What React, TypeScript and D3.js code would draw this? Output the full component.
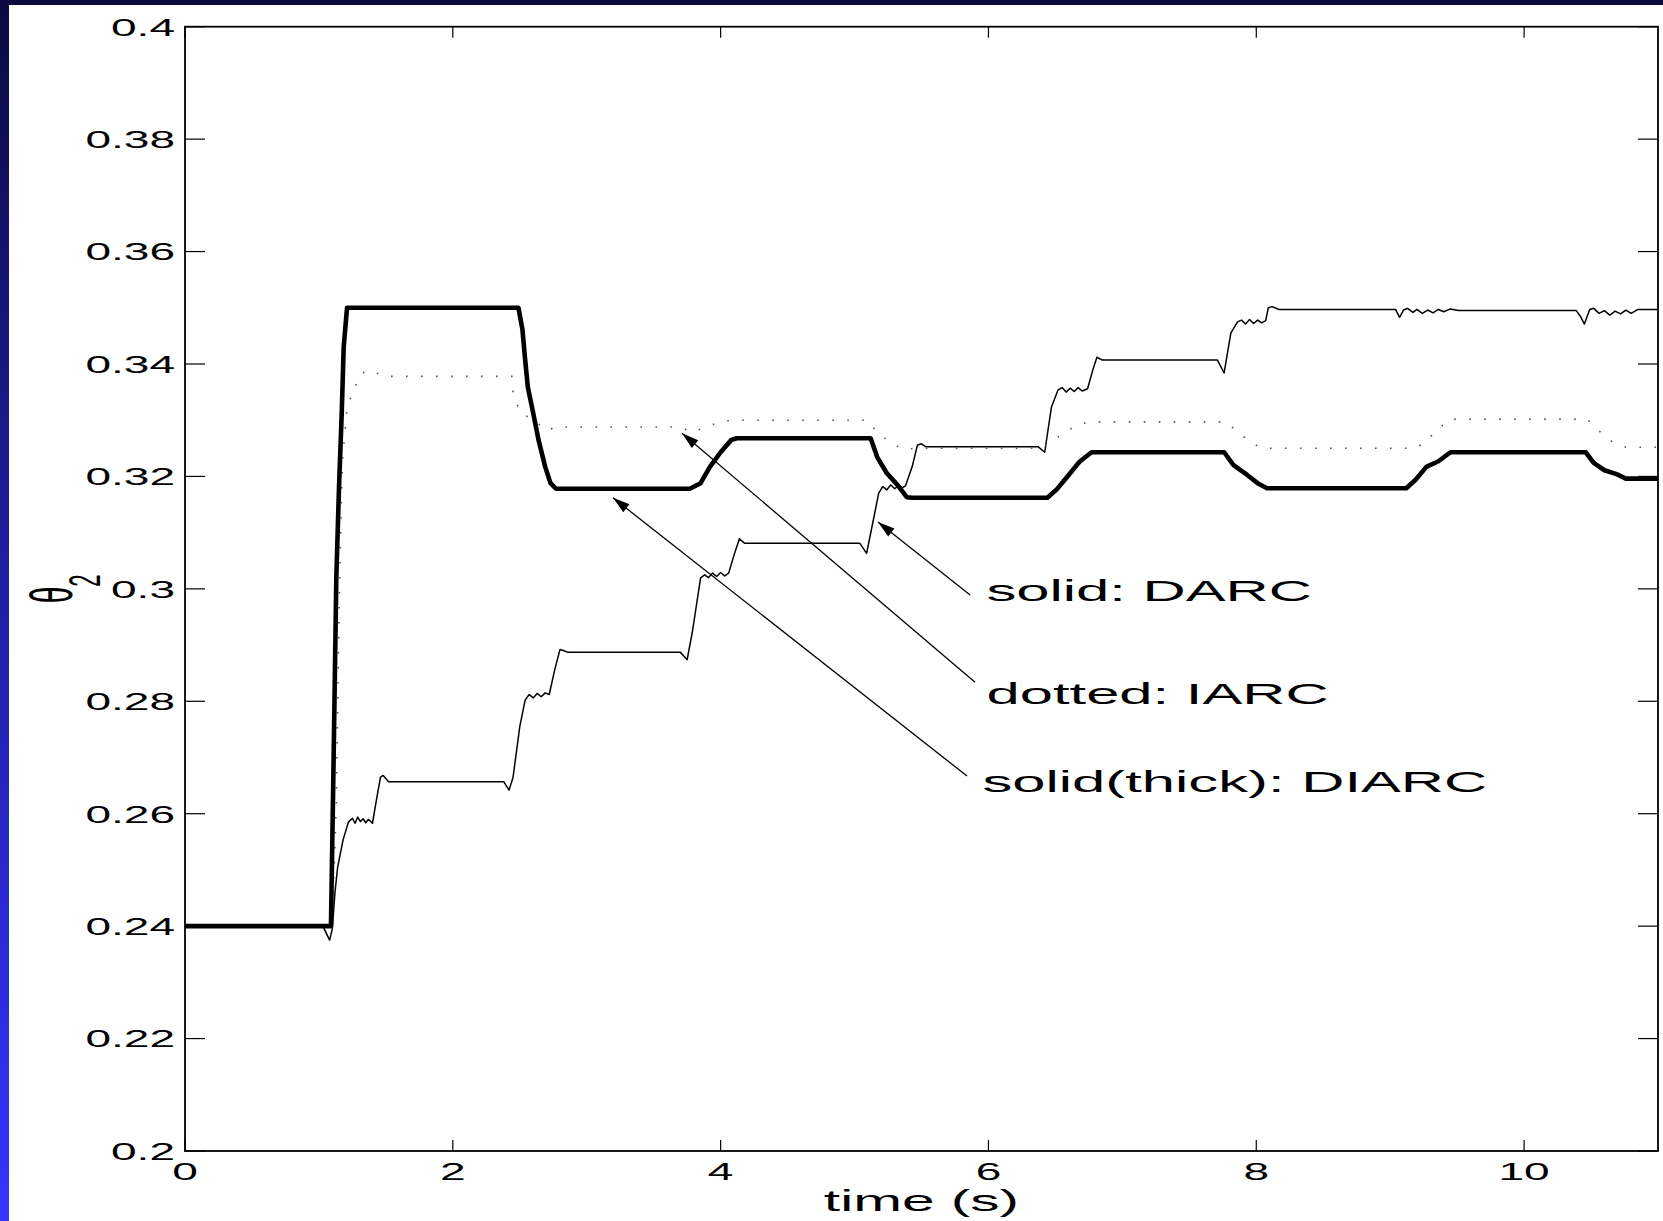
import React from "react";
import * as d3 from "d3";

// Joint angle theta_2 over time for three controllers: [time (s), theta_2]
const darcSeries: [number, number][] = [
  [0, 0.24], [1.03, 0.24], [1.06, 0.2385], [1.08, 0.2375], [1.1, 0.2395], [1.12, 0.246],
  [1.14, 0.2505], [1.18, 0.2553], [1.22, 0.2585], [1.25, 0.2592], [1.27, 0.2583], [1.29, 0.2594],
  [1.31, 0.2586], [1.33, 0.2591], [1.35, 0.2584], [1.37, 0.259], [1.4, 0.2583], [1.43, 0.2625],
  [1.46, 0.2665], [1.48, 0.2668], [1.52, 0.2657], [2.38, 0.2657], [2.42, 0.2642], [2.45, 0.2665],
  [2.5, 0.2755], [2.54, 0.2802], [2.57, 0.2812], [2.6, 0.2806], [2.63, 0.2814], [2.66, 0.2808],
  [2.69, 0.2815], [2.72, 0.2812], [2.76, 0.2855], [2.8, 0.2892], [2.83, 0.289], [2.86, 0.2887],
  [3.7, 0.2887], [3.75, 0.2874], [3.79, 0.2925], [3.85, 0.3019], [3.88, 0.3025], [3.91, 0.302],
  [3.94, 0.3028], [3.97, 0.3022], [4.0, 0.3029], [4.03, 0.3023], [4.06, 0.3028], [4.1, 0.306],
  [4.14, 0.3089], [4.18, 0.3081], [5.04, 0.3081], [5.09, 0.3063], [5.14, 0.3122], [5.18, 0.317],
  [5.21, 0.3182], [5.24, 0.3176], [5.27, 0.3185], [5.3, 0.3178], [5.33, 0.3184], [5.36, 0.318],
  [5.38, 0.3183], [5.43, 0.3217], [5.47, 0.3256], [5.5, 0.3258], [5.53, 0.3253], [6.37, 0.3253],
  [6.42, 0.3243], [6.47, 0.3323], [6.52, 0.3354], [6.55, 0.3358], [6.58, 0.335], [6.61, 0.3357],
  [6.64, 0.3351], [6.67, 0.3358], [6.7, 0.3352], [6.74, 0.3356], [6.78, 0.339], [6.81, 0.3412],
  [6.85, 0.3407], [7.71, 0.3407], [7.76, 0.3384], [7.81, 0.3455], [7.86, 0.3475], [7.89, 0.3478],
  [7.92, 0.3471], [7.95, 0.3479], [7.98, 0.3472], [8.01, 0.3478], [8.04, 0.3473], [8.07, 0.3477],
  [8.09, 0.35], [8.12, 0.3502], [8.17, 0.3497], [9.04, 0.3497], [9.07, 0.3483], [9.1, 0.3496],
  [9.13, 0.3499], [9.17, 0.3492], [9.2, 0.3497], [9.24, 0.349], [9.28, 0.3496], [9.32, 0.3491],
  [9.36, 0.3497], [9.4, 0.3493], [9.45, 0.3498], [9.51, 0.3495], [10.39, 0.3495], [10.42, 0.3485],
  [10.45, 0.3471], [10.49, 0.3497], [10.52, 0.3499], [10.56, 0.349], [10.6, 0.3495], [10.64, 0.3487],
  [10.68, 0.3494], [10.72, 0.3489], [10.76, 0.3496], [10.8, 0.349], [10.85, 0.3497], [11, 0.3497],
];

const iarcSeries: [number, number][] = [
  [0, 0.24], [1.1, 0.24], [1.13, 0.262], [1.15, 0.295], [1.17, 0.3181], [1.18, 0.3242],
  [1.2, 0.3295], [1.21, 0.3323], [1.26, 0.3354], [1.32, 0.3384], [1.39, 0.3389], [1.48, 0.3378],
  [2.44, 0.3378], [2.45, 0.3348], [2.5, 0.3315], [2.6, 0.33], [2.71, 0.3281], [2.76, 0.3288],
  [3.71, 0.3288], [3.77, 0.3279], [3.85, 0.3284], [3.95, 0.3293], [4.05, 0.3299], [4.14, 0.33],
  [5.1, 0.33], [5.17, 0.3277], [5.27, 0.3261], [5.36, 0.3248], [5.45, 0.325], [6.38, 0.325],
  [6.45, 0.3258], [6.55, 0.3275], [6.65, 0.329], [6.75, 0.3297], [7.77, 0.3297], [7.85, 0.3282],
  [7.95, 0.3262], [8.04, 0.325], [9.19, 0.325], [9.27, 0.3263], [9.36, 0.3285], [9.45, 0.3302],
  [10.47, 0.3302], [10.55, 0.3283], [10.65, 0.3263], [10.76, 0.3252], [11, 0.3252],
];

const diarcSeries: [number, number][] = [
  [0, 0.24], [1.09, 0.24], [1.11, 0.27], [1.13, 0.302], [1.15, 0.318], [1.17, 0.331],
  [1.185, 0.343], [1.21, 0.35], [2.49, 0.35], [2.52, 0.3461], [2.54, 0.3408], [2.56, 0.3359],
  [2.6, 0.3313], [2.64, 0.3265], [2.69, 0.3217], [2.73, 0.3188], [2.77, 0.3178], [3.77, 0.3178],
  [3.85, 0.3188], [3.92, 0.3217], [4.0, 0.3243], [4.08, 0.3265], [4.12, 0.3268], [5.12, 0.3268],
  [5.17, 0.3234], [5.24, 0.3206], [5.32, 0.3185], [5.39, 0.3163], [5.43, 0.3162], [6.44, 0.3162],
  [6.51, 0.3177], [6.59, 0.32], [6.68, 0.3226], [6.77, 0.3243], [7.76, 0.3243], [7.83, 0.322],
  [7.93, 0.3203], [8.01, 0.3188], [8.08, 0.3179], [9.12, 0.3179], [9.19, 0.3194], [9.27, 0.3217],
  [9.36, 0.3227], [9.45, 0.3243], [10.46, 0.3243], [10.52, 0.3224], [10.6, 0.3211],
  [10.69, 0.3204], [10.76, 0.3196], [11, 0.3196],
];

const xTicks = [0, 2, 4, 6, 8, 10];
const xTickLabels = ["0", "2", "4", "6", "8", "10"];
const yTicks = [0.2, 0.22, 0.24, 0.26, 0.28, 0.3, 0.32, 0.34, 0.36, 0.38, 0.4];
const yTickLabels = ["0.2", "0.22", "0.24", "0.26", "0.28", "0.3", "0.32", "0.34", "0.36", "0.38", "0.4"];

// Callouts: label text, label position and arrow [from -> to], all in data units
const calloutLabels = ["solid: DARC", "dotted: IARC", "solid(thick): DIARC"];
const calloutTextPos: [number, number][] = [[5.985, 0.2979], [5.985, 0.2796], [5.955, 0.2639]];
const calloutArrowFrom: [number, number][] = [[5.863, 0.2989], [5.9, 0.2834], [5.84, 0.2667]];
const calloutArrowTo: [number, number][] = [[5.175, 0.3119], [3.712, 0.3277], [3.196, 0.3162]];

const W = 1663;
const H = 1221;
const FONT = "'Liberation Sans', Arial, Helvetica, sans-serif";

const margin = { left: 185, top: 26.7, right: W - 1658, bottom: H - 1151 };

function Stretched({ x, y, sx, size, anchor, children }: any) {
  return (
    <text
      transform={`translate(${x},${y}) scale(${sx},1)`}
      fontFamily={FONT}
      fontSize={size}
      textAnchor={anchor}
      fill="#000"
    >
      {children}
    </text>
  );
}

export default function App() {
  const x = d3.scaleLinear().domain([0, 11]).range([margin.left, W - margin.right]);
  const y = d3.scaleLinear().domain([0.2, 0.4]).range([H - margin.bottom, margin.top]);
  const line = d3
    .line<[number, number]>()
    .x((d) => x(d[0]))
    .y((d) => y(d[1]));

  const x0 = x(0);
  const x1 = x(11);
  const y0 = y(0.2);
  const y1 = y(0.4);
  const yTickLen = 20;
  const xTickLen = 11;

  // arrowhead polygon along the direction from -> to
  const arrowHead = (from: [number, number], to: [number, number]) => {
    const fx = x(from[0]), fy = y(from[1]);
    const tx = x(to[0]), ty = y(to[1]);
    const ang = Math.atan2(ty - fy, tx - fx);
    const len = 17, half = 5;
    const bx = tx - len * Math.cos(ang), by = ty - len * Math.sin(ang);
    const px = -Math.sin(ang) * half, py = Math.cos(ang) * half;
    return `${tx},${ty} ${bx + px},${by + py} ${bx - px},${by - py}`;
  };

  return (
    <svg
      width={W}
      height={H}
      viewBox={`0 0 ${W} ${H}`}
      style={{ position: "absolute", left: 0, top: 0, display: "block" }}
    >
      <defs>
        <linearGradient id="edgeBlue" x1="0" y1="0" x2="0" y2="1">
          <stop offset="0" stopColor="#0b0a40" />
          <stop offset="0.35" stopColor="#1a1a8c" />
          <stop offset="1" stopColor="#3535ff" />
        </linearGradient>
        <clipPath id="plotClip">
          <rect x={x0} y={y1} width={x1 - x0} height={y0 - y1} />
        </clipPath>
      </defs>

      <rect x={0} y={0} width={W} height={H} fill="#ffffff" />
      <rect x={0} y={0} width={9} height={H} fill="url(#edgeBlue)" />
      <rect x={0} y={0} width={W} height={5} fill="#0b0a40" />

      {/* data */}
      <g clipPath="url(#plotClip)" fill="none">
        <path d={line(darcSeries) || ""} stroke="#000" strokeWidth={1.5} strokeLinejoin="round" />
        <path d={line(iarcSeries) || ""} stroke="#555" strokeWidth={1.6} strokeDasharray="1.6 13.4" />
        <path d={line(diarcSeries) || ""} stroke="#000" strokeWidth={4.6} strokeLinejoin="round" />
      </g>

      {/* box and ticks */}
      <rect x={x0} y={y1} width={x1 - x0} height={y0 - y1} fill="none" stroke="#000" strokeWidth={1.8} />
      {yTicks.map((t) => (
        <g key={`yt${t}`} stroke="#000" strokeWidth={1.2}>
          <line x1={x0} x2={x0 + yTickLen} y1={y(t)} y2={y(t)} />
          <line x1={x1} x2={x1 - yTickLen} y1={y(t)} y2={y(t)} />
        </g>
      ))}
      {xTicks.map((t) => (
        <g key={`xt${t}`} stroke="#000" strokeWidth={1.2}>
          <line x1={x(t)} x2={x(t)} y1={y0} y2={y0 - xTickLen} />
          <line x1={x(t)} x2={x(t)} y1={y1} y2={y1 + xTickLen} />
        </g>
      ))}

      {/* tick labels */}
      {yTicks.map((t, i) => (
        <Stretched key={`yl${t}`} x={x0 - 10} y={y(t) + 8.8} sx={1.88} size={24.5} anchor="end">
          {yTickLabels[i]}
        </Stretched>
      ))}
      {xTicks.map((t, i) => (
        <Stretched key={`xl${t}`} x={x(t)} y={1180} sx={1.88} size={24.5} anchor="middle">
          {xTickLabels[i]}
        </Stretched>
      ))}

      {/* axis labels */}
      <Stretched x={(x0 + x1) / 2} y={1211} sx={2.02} size={29} anchor="middle">
        time (s)
      </Stretched>
      <text
        transform={`translate(72,${(y0 + y1) / 2}) scale(2,1) rotate(-90)`}
        fontFamily={FONT}
        fontSize={30}
        textAnchor="middle"
        fill="#000"
      >
        θ
        <tspan fontSize={22} dy={14}>2</tspan>
      </text>

      {/* callouts */}
      {calloutLabels.map((lab, i) => {
        const from = calloutArrowFrom[i];
        const to = calloutArrowTo[i];
        return (
          <g key={lab}>
            <line
              x1={x(from[0])}
              y1={y(from[1])}
              x2={x(to[0])}
              y2={y(to[1])}
              stroke="#000"
              strokeWidth={1.3}
            />
            <polygon points={arrowHead(from, to)} fill="#000" />
            <Stretched x={x(calloutTextPos[i][0])} y={y(calloutTextPos[i][1])} sx={2.04} size={29.3} anchor="start">
              {lab}
            </Stretched>
          </g>
        );
      })}
    </svg>
  );
}
